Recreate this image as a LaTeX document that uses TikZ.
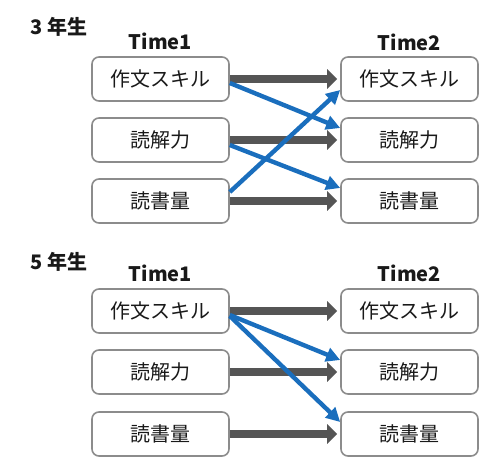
\documentclass[tikz,border=0pt]{standalone}
\usepackage{fontspec}
\setmainfont{Noto Sans CJK JP}
\usetikzlibrary{arrows.meta}
\definecolor{boxline}{HTML}{8C8C8C}
\definecolor{stablegray}{HTML}{555555}
\definecolor{crossblue}{HTML}{1A6EBD}
\tikzset{
	skillbox/.style={draw=boxline, line width=1.6pt, rounded corners=7pt, minimum width=137pt, minimum height=44pt, inner sep=0pt, font=\fontsize{20}{24}\selectfont, text=black!90},
	timelabel/.style={font=\bfseries\fontsize{20}{24}\selectfont, text=black!90},
	gradelabel/.style={anchor=west, font=\bfseries\fontsize{20}{24}\selectfont, text=black!90},
	stable/.style={draw=stablegray, line width=8pt, -{Triangle[length=10pt,width=19pt]}},
	cross/.style={draw=crossblue, line width=4.4pt, -{Triangle[length=14pt,width=14pt]}}
}
\begin{document}
\begin{tikzpicture}[x=1pt, y=-1pt]
		\useasboundingbox (0,0) rectangle (501,461);
		%%%%% 3年生 %%%%%
		\node[gradelabel] (g3) at (27, 27) {3 年生};
		\node[timelabel] (t3a) at (160.5, 41) {Time1};
		\node[timelabel] (t3b) at (409.5, 42) {Time2};
		
		\node[skillbox] (a1) at (160.5, 79) {作文スキル};
		\node[skillbox] (a2) at (160.5, 140) {読解力};
		\node[skillbox] (a3) at (160.5, 201) {読書量};
		\node[skillbox] (b1) at (409.5, 79) {作文スキル};
		\node[skillbox] (b2) at (409.5, 140) {読解力};
		\node[skillbox] (b3) at (409.5, 201) {読書量};
		
		\draw[stable] (a1.east) -- ([xshift=-3pt]b1.west);
		\draw[stable] (a2.east) -- ([xshift=-3pt]b2.west);
		\draw[stable] (a3.east) -- ([xshift=-3pt]b3.west);
		
		\draw[cross] ([yshift=-4pt]a1.east) -- ([yshift=12pt]b2.west);
		\draw[cross] ([yshift=-5pt]a2.east) -- ([yshift=13pt]b3.west);
		\draw[cross] ([yshift=9pt]a3.east) -- ([yshift=-11pt]b1.west);
		
		%%%%% 5年生 %%%%%
		\node[gradelabel] (g5) at (27, 262) {5 年生};
		\node[timelabel] (t5a) at (160.5, 273) {Time1};
		\node[timelabel] (t5b) at (409.5, 273) {Time2};
		
		\node[skillbox] (c1) at (160.5, 311) {作文スキル};
		\node[skillbox] (c2) at (160.5, 372) {読解力};
		\node[skillbox] (c3) at (160.5, 434) {読書量};
		\node[skillbox] (d1) at (409.5, 311) {作文スキル};
		\node[skillbox] (d2) at (409.5, 372) {読解力};
		\node[skillbox] (d3) at (409.5, 434) {読書量};
		
		\draw[stable] (c1.east) -- ([xshift=-3pt]d1.west);
		\draw[stable] (c2.east) -- ([xshift=-3pt]d2.west);
		\draw[stable] (c3.east) -- ([xshift=-3pt]d3.west);
		
		\draw[cross] ([yshift=-4pt]c1.east) -- ([yshift=12pt]d2.west);
		\draw[cross] ([yshift=-5pt]c1.east) -- ([yshift=12pt]d3.west);
\end{tikzpicture}
\end{document}
